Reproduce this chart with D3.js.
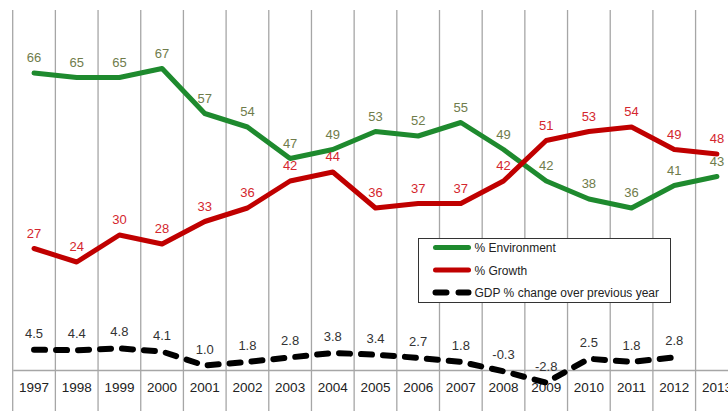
<!DOCTYPE html>
<html>
<head>
<meta charset="utf-8">
<script src="https://cdn.jsdelivr.net/npm/d3@7"></script>
<style>
  html, body { margin: 0; padding: 0; background: #fff; }
  svg { display: block; }
</style>
</head>
<body>
<script>
// Survey: environment vs. economic growth priority, with annual GDP change
const years = ["1997","1998","1999","2000","2001","2002","2003","2004","2005","2006","2007","2008","2009","2010","2011","2012","2013"];
const environment = [66, 65, 65, 67, 57, 54, 47, 49, 53, 52, 55, 49, 42, 38, 36, 41, 43];
const growth      = [27, 24, 30, 28, 33, 36, 42, 44, 36, 37, 37, 42, 51, 53, 54, 49, 48];
const gdpChange   = [4.5, 4.4, 4.8, 4.1, 1.0, 1.8, 2.8, 3.8, 3.4, 2.7, 1.8, -0.3, -2.8, 2.5, 1.8, 2.8, null];
const gdpLabels   = ["4.5","4.4","4.8","4.1","1.0","1.8","2.8","3.8","3.4","2.7","1.8","-0.3","-2.8","2.5","1.8","2.8",null];
const legendItems = ["% Environment", "% Growth", "GDP % change over previous year"];

const W = 728, H = 411;
const left = 12.7, band = 42.68;
const svg = d3.select("body").append("svg").attr("width", W).attr("height", H);

const x = d3.scaleBand().domain(years).range([left, left + band * years.length]).padding(0);
const y = d3.scaleLinear().domain([-10, 80]).range([415, 10]);
const cx = d => x(d) + x.bandwidth() / 2;

// vertical separators between categories
const bounds = years.map(d => x(d)).concat([x.range()[1]]);
svg.append("g").selectAll("line").data(bounds).join("line")
  .attr("x1", d => d).attr("x2", d => d)
  .attr("y1", y(80)).attr("y2", y(-10))
  .attr("stroke", "#a6a6a6").attr("stroke-width", 1.3);

// category axis at zero
const axis = d3.axisBottom(x).tickSize(0).tickPadding(0).tickSizeOuter(0);
const ax = svg.append("g").attr("transform", `translate(0,${y(0)})`).call(axis);
ax.select(".domain").attr("stroke", "#a6a6a6").attr("stroke-width", 1.3);
ax.selectAll("text")
  .attr("dy", null).attr("y", 22)
  .attr("font-family", "'Liberation Sans Narrow', 'Arial Narrow', sans-serif")
  .attr("font-size", 13.5).attr("fill", "#222");

const series = [
  { values: environment, color: "#1e8a2e", label: "#6f7c4b", width: 5 },
  { values: growth,      color: "#c00000", label: "#d4262e", width: 5 }
];

series.forEach(s => {
  const pts = years.map((yr, i) => ({ yr, v: s.values[i] }));
  const line = d3.line().x(d => cx(d.yr)).y(d => y(d.v));
  svg.append("path").datum(pts)
    .attr("d", line).attr("fill", "none")
    .attr("stroke", s.color).attr("stroke-width", s.width)
    .attr("stroke-linejoin", "round").attr("stroke-linecap", "round");
  svg.append("g").selectAll("text").data(pts).join("text")
    .attr("x", d => cx(d.yr)).attr("y", d => y(d.v) - 11)
    .attr("text-anchor", "middle")
    .attr("font-family", "'Liberation Sans', Arial, sans-serif")
    .attr("font-size", 13).attr("fill", s.label)
    .text(d => d.v);
});

// GDP change, dashed
const gdpPts = years.map((yr, i) => ({ yr, v: gdpChange[i], t: gdpLabels[i] })).filter(d => d.v !== null);
svg.append("path").datum(gdpPts)
  .attr("d", d3.line().x(d => cx(d.yr)).y(d => y(d.v)))
  .attr("fill", "none").attr("stroke", "#000").attr("stroke-width", 6)
  .attr("stroke-dasharray", "11,11").attr("stroke-linecap", "round")
  .attr("stroke-linejoin", "round");
svg.append("g").selectAll("text").data(gdpPts).join("text")
  .attr("x", d => cx(d.yr)).attr("y", d => y(d.v) - 12)
  .attr("text-anchor", "middle")
  .attr("font-family", "'Liberation Sans Narrow', 'Arial Narrow', sans-serif")
  .attr("font-size", 13).attr("fill", "#333")
  .text(d => d.t);

// legend
const lg = svg.append("g").attr("transform", "translate(418.5,238.5)");
lg.append("rect").attr("width", 252).attr("height", 64)
  .attr("fill", "#fff").attr("stroke", "#333").attr("stroke-width", 1);
const styles = [
  { color: "#1e8a2e", width: 5, dash: null },
  { color: "#c00000", width: 5, dash: null },
  { color: "#000", width: 6, dash: "11,12" }
];
legendItems.forEach((t, i) => {
  const yy = 9 + i * 22.5;
  lg.append("line").attr("x1", 17).attr("x2", 50).attr("y1", yy).attr("y2", yy)
    .attr("stroke", styles[i].color).attr("stroke-width", styles[i].width)
    .attr("stroke-linecap", "round")
    .attr("stroke-dasharray", styles[i].dash);
  lg.append("text").attr("x", 56).attr("y", yy + 4.5)
    .attr("font-family", "'Liberation Sans Narrow', 'Arial Narrow', sans-serif")
    .attr("font-size", 12).attr("fill", "#222").text(t);
});
</script>
</body>
</html>
